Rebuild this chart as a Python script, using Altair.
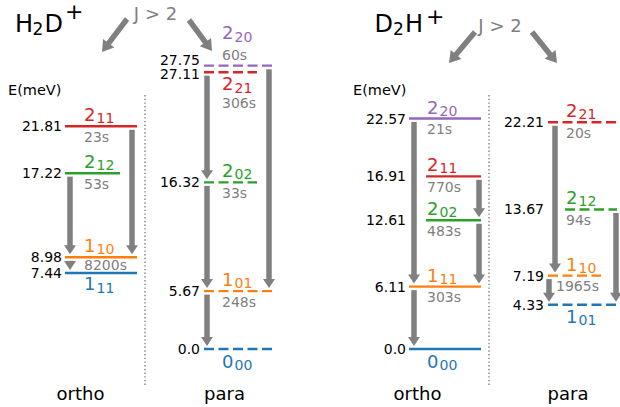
import math
import altair as alt
import pandas as pd

# ---------------- level data (energies in meV, radiative lifetimes) ----------------
# H2D+ ortho
h2d_o_state = ["2_11", "2_12", "1_10", "1_11"]
h2d_o_energy = [21.81, 17.22, 8.98, 7.44]
h2d_o_life = ["23s", "53s", "8200s", ""]
# H2D+ para
h2d_p_state = ["2_20", "2_21", "2_02", "1_01", "0_00"]
h2d_p_energy = [27.75, 27.11, 16.32, 5.67, 0.0]
h2d_p_life = ["60s", "306s", "33s", "248s", ""]
# D2H+ ortho
d2h_o_state = ["2_20", "2_11", "2_02", "1_11", "0_00"]
d2h_o_energy = [22.57, 16.91, 12.61, 6.11, 0.0]
d2h_o_life = ["21s", "770s", "483s", "303s", ""]
# D2H+ para
d2h_p_state = ["2_21", "2_12", "1_10", "1_01"]
d2h_p_energy = [22.21, 13.67, 7.19, 4.33]
d2h_p_life = ["20s", "94s", "1965s", ""]

# radiative decays: upper state -> lower state
h2d_o_decay = [("2_11", "1_10"), ("2_12", "1_10"), ("1_10", "1_11")]
h2d_p_decay = [("2_21", "2_02"), ("2_02", "1_01"), ("1_01", "0_00"), ("2_20", "1_01")]
d2h_o_decay = [("2_20", "1_11"), ("1_11", "0_00"), ("2_11", "2_02"), ("2_02", "1_11")]
d2h_p_decay = [("2_21", "1_10"), ("1_10", "1_01"), ("2_12", "1_01")]

# ---------------- styling / layout ----------------
COLOR_BY_RANK = ["#1f77b4", "#ff7f0e", "#2ca02c", "#d62728", "#9467bd"]  # bottom-up
GRAY = "#808080"
FONT = "DejaVu Sans"

W, H = 620, 407
PPM = 10.21            # pixels per meV
Y0 = 349               # pixel row of E = 0
E_MAX = Y0 / PPM
E_MIN = -(H - Y0) / PPM


def lift(e, px):
    """Energy value displaced by px pixels (positive = downward)."""
    return e - px / PPM


columns = [
    dict(key="h2d_o", state=h2d_o_state, energy=h2d_o_energy, life=h2d_o_life,
         decay=h2d_o_decay, decay_x=[132, 70, 70], dashed=False,
         span=(65, 137), elabel_x=62, label_x=84),
    dict(key="h2d_p", state=h2d_p_state, energy=h2d_p_energy, life=h2d_p_life,
         decay=h2d_p_decay, decay_x=[207, 207, 207, 269], dashed=True,
         span=(204, 272), elabel_x=200, label_x=222),
    dict(key="d2h_o", state=d2h_o_state, energy=d2h_o_energy, life=d2h_o_life,
         decay=d2h_o_decay, decay_x=[414, 414, 479, 479], dashed=False,
         span=(409, 481), elabel_x=406, label_x=427),
    dict(key="d2h_p", state=d2h_p_state, energy=d2h_p_energy, life=d2h_p_life,
         decay=d2h_p_decay, decay_x=[555, 549, 616], dashed=True,
         span=(548, 617), elabel_x=544, label_x=566),
]

# shorter level bars
SPAN = {
    ("h2d_o", "2_12"): (65, 120),
    ("h2d_p", "2_21"): (204, 257), ("h2d_p", "2_02"): (204, 257),
    ("d2h_o", "2_11"): (426, 481), ("d2h_o", "2_02"): (426, 481),
    ("d2h_p", "2_12"): (565, 617), ("d2h_p", "1_10"): (548, 601),
}
# (J baseline, subscript baseline, lifetime baseline) offsets from the level, px
LABEL_DY = {
    ("h2d_p", "2_20"): (-27, -24, -6),
    ("h2d_p", "2_21"): (18, 21, 36),
    ("h2d_o", "1_11"): (17, 20, 0),
    ("h2d_o", "1_10"): (-5, -3, 13),
    ("h2d_p", "0_00"): (19, 21, 0),
    ("d2h_o", "0_00"): (19, 21, 0),
    ("d2h_p", "1_01"): (18, 20, 0),
}
ENERGY_DY = {("h2d_p", "2_20"): -1, ("h2d_p", "2_21"): 7}
LIFE_X = {("d2h_p", "1_10"): 556}

level_rows, text_left, text_right, shafts = [], [], [], []
for c in columns:
    energy_of = dict(zip(c["state"], c["energy"]))
    n = len(c["state"])
    for i, (s, e, life) in enumerate(zip(c["state"], c["energy"], c["life"])):
        color = COLOR_BY_RANK[n - 1 - i]
        x0, x1 = SPAN.get((c["key"], s), c["span"])
        level_rows.append(dict(x=x0, x2=x1, E=e, color=color, dashed=c["dashed"]))
        text_right.append(dict(x=c["elabel_x"], E=lift(e, ENERGY_DY.get((c["key"], s), 5)),
                               text=str(e), color="black", size=14))
        jdy, sdy, ldy = LABEL_DY.get((c["key"], s), (-5, -3, 15.5))
        lx = c["label_x"]
        text_left.append(dict(x=lx, E=lift(e, jdy), text=s[0], color=color, size=18))
        text_left.append(dict(x=lx + 12.5, E=lift(e, sdy), text=s[2:], color=color, size=14))
        if life:
            text_left.append(dict(x=LIFE_X.get((c["key"], s), lx), E=lift(e, ldy),
                                  text=life, color=GRAY, size=14))
    for (a, b), ax in zip(c["decay"], c["decay_x"]):
        shafts.append(dict(x=ax, E=energy_of[a], E2=energy_of[b]))

levels = pd.DataFrame(level_rows)
decays = pd.DataFrame(shafts)
labels_l = pd.DataFrame(text_left)
labels_r = pd.DataFrame(text_right)

# ---------------- page furniture (pixel layout) ----------------
separators = pd.DataFrame([dict(x=145, y=95, y2=387), dict(x=489, y=95, y2=387)])

j_arrows = [((127, 19), (102, 52)), ((189, 20), (212, 51)),
            ((475, 32), (449, 63)), ((532, 32), (557, 63))]
BIG_HEAD = 11
j_shaft_rows, j_head_rows = [], []
for (xs, ys), (xt, yt) in j_arrows:
    L = math.hypot(xt - xs, yt - ys)
    ux, uy = (xt - xs) / L, (yt - ys) / L
    j_shaft_rows.append(dict(x=xs, y=ys, x2=xt - ux * (BIG_HEAD - 2), y2=yt - uy * (BIG_HEAD - 2)))
    j_head_rows.append(dict(x=xt, y=yt, angle=math.degrees(math.atan2(-ux, uy)) % 360))
j_shafts = pd.DataFrame(j_shaft_rows)
j_heads = pd.DataFrame(j_head_rows)

notes_left = pd.DataFrame([
    dict(x=15, y=32, text="H", size=24, color="black"),
    dict(x=32.5, y=35, text="2", size=17, color="black"),
    dict(x=44.5, y=32, text="D", size=24, color="black"),
    dict(x=65, y=19, text="+", size=22, color="black"),
    dict(x=374.5, y=32, text="D", size=24, color="black"),
    dict(x=393, y=35, text="2", size=17, color="black"),
    dict(x=405, y=32, text="H", size=24, color="black"),
    dict(x=426, y=24, text="+", size=22, color="black"),
    dict(x=8, y=95, text="E(meV)", size=14.5, color="black"),
    dict(x=353, y=95, text="E(meV)", size=14.5, color="black"),
])
notes_center = pd.DataFrame([
    dict(x=155.5, y=20, text="J > 2", size=18, color=GRAY),
    dict(x=500, y=32, text="J > 2", size=18, color=GRAY),
    dict(x=80.5, y=400, text="ortho", size=18, color="black"),
    dict(x=224.5, y=400, text="para", size=18, color="black"),
    dict(x=417.5, y=400, text="ortho", size=18, color="black"),
    dict(x=568, y=400, text="para", size=18, color="black"),
])

# ---------------- encodings ----------------
XP = alt.X("x:Q", scale=None, axis=None)
YP = alt.Y("y:Q", scale=None, axis=None)
YE = alt.Y("E:Q", scale=alt.Scale(domain=[E_MIN, E_MAX], nice=False, zero=False), axis=None)
COL = alt.Color("color:N", scale=None, legend=None)
SIZE = alt.Size("size:Q", scale=None, legend=None)

HEAD = "M-1,-1.5L1,-1.5L0,0Z"          # tip at the anchor point
BIGHEAD = "M-1,-1.5714L1,-1.5714L0,0Z"

sep_layer = alt.Chart(separators).mark_rule(
    color="#909090", strokeWidth=1.6, strokeDash=[1.4, 2.3]
).encode(x=XP, y=YP, y2="y2:Q")

shaft_layer = alt.Chart(decays).mark_rule(
    color=GRAY, strokeWidth=5.5, strokeCap="butt", yOffset=3.5, y2Offset=-10
).encode(x=XP, y=YE, y2="E2:Q")

head_layer = alt.Chart(decays).mark_point(
    shape=HEAD, filled=True, size=144, color=GRAY, opacity=1, strokeWidth=0, yOffset=-3
).encode(x=XP, y=alt.Y("E2:Q", scale=alt.Scale(domain=[E_MIN, E_MAX], nice=False, zero=False), axis=None))

solid_layer = alt.Chart(levels).transform_filter("!datum.dashed").mark_rule(
    strokeWidth=2.4, strokeCap="butt"
).encode(x=XP, x2="x2:Q", y=YE, color=COL)

dashed_layer = alt.Chart(levels).transform_filter("datum.dashed").mark_rule(
    strokeWidth=2.4, strokeCap="butt", strokeDash=[10, 4.5]
).encode(x=XP, x2="x2:Q", y=YE, color=COL)

elabel_layer = alt.Chart(labels_r).mark_text(
    align="right", baseline="alphabetic", font=FONT
).encode(x=XP, y=YE, text="text:N", color=COL, size=SIZE)

slabel_layer = alt.Chart(labels_l).mark_text(
    align="left", baseline="alphabetic", font=FONT
).encode(x=XP, y=YE, text="text:N", color=COL, size=SIZE)

jshaft_layer = alt.Chart(j_shafts).mark_rule(
    color=GRAY, strokeWidth=5.5, strokeCap="butt"
).encode(x=XP, y=YP, x2="x2:Q", y2="y2:Q")

jhead_layer = alt.Chart(j_heads).mark_point(
    shape=BIGHEAD, filled=True, size=196, color=GRAY, opacity=1, strokeWidth=0
).encode(x=XP, y=YP, angle=alt.Angle("angle:Q", scale=None))

note_l_layer = alt.Chart(notes_left).mark_text(
    align="left", baseline="alphabetic", font=FONT
).encode(x=XP, y=YP, text="text:N", color=COL, size=SIZE)

note_c_layer = alt.Chart(notes_center).mark_text(
    align="center", baseline="alphabetic", font=FONT
).encode(x=XP, y=YP, text="text:N", color=COL, size=SIZE)

chart = alt.layer(
    sep_layer, shaft_layer, head_layer, solid_layer, dashed_layer,
    elabel_layer, slabel_layer, jshaft_layer, jhead_layer, note_l_layer, note_c_layer
).properties(
    width=W, height=H, padding=0, background="white",
    autosize=alt.AutoSizeParams(type="none")
).configure_view(stroke=None)

chart.save("out.html", embed_options={"renderer": "svg", "actions": False})
